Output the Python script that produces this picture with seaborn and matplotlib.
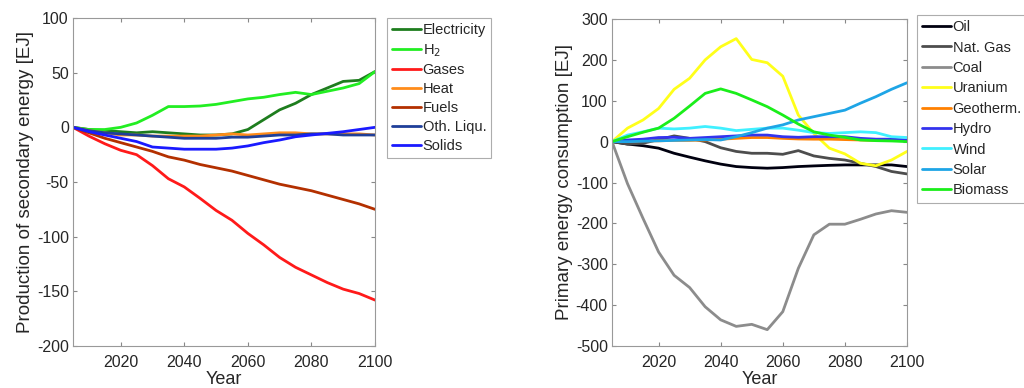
import numpy as np
import pandas as pd
import matplotlib
matplotlib.use("Agg")
import matplotlib.pyplot as plt
import seaborn as sns

years = list(range(2005, 2101, 5))

# Left panel: production of secondary energy [EJ]
sec_names = ["Electricity", "H$_2$", "Gases", "Heat", "Fuels", "Oth. Liqu.", "Solids"]
electricity = [0, -2, -3, -4, -5, -4, -5, -6, -7, -7, -6, -2, 7, 16, 22, 30, 36, 42, 43, 51]
h2 = [0, -2, -2, 0, 4, 11, 19, 19, 19.5, 21, 23.5, 26, 27.5, 30, 32, 30, 33, 36, 40, 51]
gases = [0, -8, -15, -21, -25, -35, -47, -54.5, -65, -76, -85, -97, -107.5, -119, -128, -135, -142, -148, -152, -158]
heat = [0, -3, -5, -7, -7, -8, -8, -8, -8, -7, -6, -7, -6, -5, -5, -6, -6, -6, -6, -7]
fuels = [0, -5, -10, -14, -18, -22, -27, -30, -34, -37, -40, -44, -48, -52, -55, -58, -62, -66, -70, -75]
oth_liqu = [0, -3, -5, -6, -7, -8, -9, -10, -10, -10, -9, -9, -8, -7, -7, -6, -6, -7, -7, -7]
solids = [0, -4, -7, -10, -13, -18, -19, -20, -20, -20, -19, -17, -14, -11.6, -8.6, -7, -5.5, -4, -2, 0]
sec_values = [electricity, h2, gases, heat, fuels, oth_liqu, solids]
sec_colors = ["#1e7d1e", "#22ee22", "#ff1a1a", "#ff8c1a", "#b33000", "#1f3f99", "#1a1aff"]

# Right panel: primary energy consumption [EJ]
pri_names = ["Oil", "Nat. Gas", "Coal", "Uranium", "Geotherm.", "Hydro", "Wind", "Solar", "Biomass"]
oil = [0, -6, -10, -16, -28.5, -38, -47, -55, -61, -63.5, -65, -63.5, -61, -59.4, -58, -57, -57, -57, -57, -61]
nat_gas = [0, -6, -4, 5, 14, 8, 0, -15, -24, -28.5, -28.5, -31, -22, -35, -41, -45, -53, -61, -73, -79]
coal = [0, -103, -188, -270, -327, -357, -404, -436, -452, -447, -460, -416, -310, -228, -202, -202, -190, -177, -169, -173]
uranium = [0, 33, 53, 81, 128, 155, 200, 232, 252, 201, 193, 160, 65, 20, -16, -30, -53, -59, -45, -24]
geotherm = [0, 1, 2, 2, 3, 3, 4, 6, 8, 10, 10, 8, 6.5, 6, 6, 5, 4, 3, 3, 3]
hydro = [0, 4, 6, 10, 10.6, 8, 10, 12, 14, 16, 16, 12, 10.6, 12, 12, 12, 8, 6, 6, 4]
wind = [0, 16, 24, 33, 31, 33, 37, 33, 27, 30, 33, 33, 28, 22, 20, 22, 24, 22, 12, 10]
solar = [0, 0, 1, 2, 3, 4, 5, 4, 12, 22, 33, 41, 53, 61, 69, 77, 94, 110, 128, 144]
biomass = [0, 12, 23, 33, 57, 87, 118, 129, 118, 102, 85.5, 65, 43, 24, 16, 10.6, 4, 2.4, 1.6, 0]
pri_values = [oil, nat_gas, coal, uranium, geotherm, hydro, wind, solar, biomass]
pri_colors = ["#00000f", "#4d4d4d", "#8c8c8c", "#ffff1a", "#ff8000", "#3333ee", "#40f0ff", "#1ea5e6", "#1aee1a"]

sns.set_style("ticks")
plt.rcParams["font.family"] = ["Liberation Sans", "DejaVu Sans"]
plt.rcParams["axes.unicode_minus"] = False

fig = plt.figure(figsize=(10.24, 3.88), dpi=100)
ax1 = fig.add_axes([73 / 1024, 1 - 346 / 388, 302 / 1024, 328 / 388])
ax2 = fig.add_axes([612 / 1024, 1 - 346 / 388, 295 / 1024, 327 / 388])


def draw(ax, names, values, colors):
    for name, vals, col in zip(names, values, colors):
        df = pd.DataFrame({"Year": years, "Value": vals})
        sns.lineplot(data=df, x="Year", y="Value", color=col, linewidth=2.0,
                     label=name, ax=ax, legend=False)


draw(ax1, sec_names, sec_values, sec_colors)
draw(ax2, pri_names, pri_values, pri_colors)

for ax, ylim, yticks, ylabel in [
    (ax1, (-200, 100), np.arange(-200, 101, 50), "Production of secondary energy [EJ]"),
    (ax2, (-500, 300), np.arange(-500, 301, 100), "Primary energy consumption [EJ]"),
]:
    ax.set_xlim(2005, 2100)
    ax.set_ylim(*ylim)
    ax.set_xticks([2020, 2040, 2060, 2080, 2100])
    ax.set_yticks(yticks)
    ax.set_xlabel("Year", fontsize=13, labelpad=1)
    ax.set_ylabel(ylabel, fontsize=13.5, labelpad=2)
    ax.tick_params(direction="in", top=True, right=True, labelsize=11.5,
                   color="#888888", length=3)
    ax.tick_params(axis="x", pad=6.5)
    ax.tick_params(axis="y", pad=3)
    for s in ax.spines.values():
        s.set_color("#999999")
        s.set_linewidth(0.8)
        s.set_visible(True)

leg_kw = dict(loc="upper left", bbox_transform=fig.transFigure, borderaxespad=0,
              fontsize=10.5, handlelength=2.0, handletextpad=0.1, borderpad=0.35,
              frameon=True, fancybox=False, edgecolor="#999999")
l1 = ax1.legend(bbox_to_anchor=(387 / 1024, 1 - 18 / 388), labelspacing=0.33, **leg_kw)
l2 = ax2.legend(bbox_to_anchor=(917 / 1024, 1 - 15 / 388), labelspacing=0.44, **leg_kw)
for l in (l1, l2):
    l.get_frame().set_linewidth(0.8)
    for line in l.get_lines():
        line.set_linewidth(2.0)

fig.savefig("out.png", dpi=100)
